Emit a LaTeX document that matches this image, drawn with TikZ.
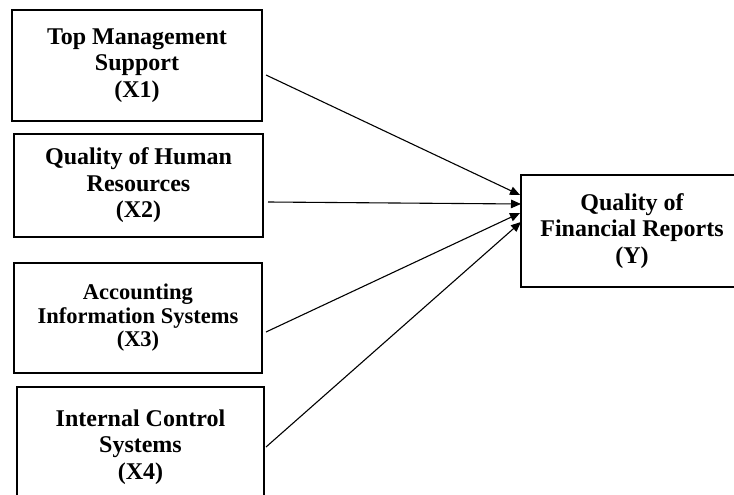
\documentclass[tikz,border=0pt]{standalone}
\usepackage{fontspec}
\setmainfont{Liberation Serif}
\usetikzlibrary{arrows.meta}
\begin{document}
\begin{tikzpicture}[x=1pt, y=-1pt,
  box/.style={draw, line width=1.2pt, inner sep=0pt, align=center,
    font=\bfseries\fontsize{24}{26.5}\selectfont},
  link/.style={line width=1.1pt, -{Triangle[length=10pt,width=8.5pt]}}]
\clip (0,0) rectangle (734,495);
\node[box, minimum width=250pt, minimum height=111pt] (x1) at (137,65.5){Top Management\\Support\\(X1)};
\node[box, minimum width=249pt, minimum height=103pt] (x2) at (138.5,185.5){Quality of Human\\Resources\\(X2)};
\node[box, minimum width=248pt, minimum height=110pt, font=\bfseries\fontsize{22.5}{23.5}\selectfont] (x3) at (138,318){Accounting\\Information Systems\\(X3)};
\node[box, minimum width=247pt, minimum height=120pt] (x4) at (140.5,447){Internal Control\\Systems\\(X4)};
\node[box, minimum width=222pt, minimum height=112pt] (y) at (632,231){Quality of\\Financial Reports\\(Y)};
% arrow ends
\coordinate (s1) at (266,75);
\coordinate (s2) at (268,202);
\coordinate (s3) at (266,332);
\coordinate (s4) at (266,447);
\coordinate (t1) at (520,195);
\coordinate (t2) at (521,204);
\coordinate (t3) at (520,213);
\coordinate (t4) at (521,222);
\draw[link](s1) -- (t1);
\draw[link](s2) -- (t2);
\draw[link](s3) -- (t3);
\draw[link](s4) -- (t4);
\end{tikzpicture}
\end{document}
